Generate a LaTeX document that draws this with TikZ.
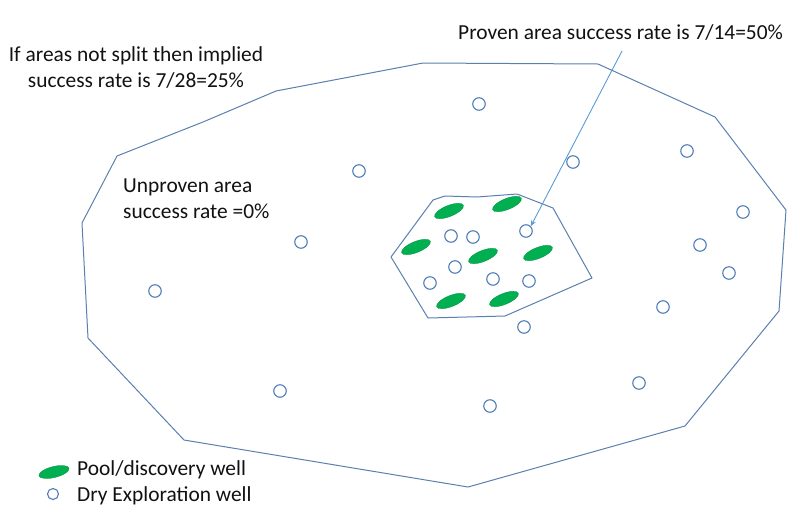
\documentclass[tikz,border=0pt]{standalone}
\usepackage{fontspec}
\setmainfont{Carlito}
\usetikzlibrary{shapes.geometric,arrows.meta}
\definecolor{edge}{HTML}{5B80AE}
\definecolor{drywell}{HTML}{4F7DB4}
\definecolor{pool}{HTML}{00B050}
\definecolor{arrowc}{HTML}{5B9BD5}
\definecolor{txt}{HTML}{111111}
\tikzset{
  dry/.style={circle,draw=drywell,line width=1.1pt,minimum size=12.5pt,inner sep=0pt,fill=white},
  poolwell/.style={ellipse,fill=pool,draw=pool!80!black,line width=0.3pt,minimum width=31pt,minimum height=11pt,inner sep=0pt,rotate=22},
  area/.style={draw=edge,line width=1pt,line join=round},
  lbl/.style={text=txt,font=\fontsize{21.4}{26}\selectfont,inner sep=0pt}
}
\begin{document}
\begin{tikzpicture}[x=1pt,y=-1pt]
\useasboundingbox (0,0) rectangle (800,528);
% outer area
\draw[area] (117,156) -- (203,122) -- (276,91) -- (423,63) -- (598,64) -- (715,117) -- (786,210) -- (779,311) -- (685,426) -- (468,487) -- (184,440) -- (88,338) -- (82,223) -- cycle;
% inner proven area
\draw[area] (391,257) -- (433,200) -- (445,196) -- (477,197) -- (517,194) -- (553,208) -- (592,278) -- (505,316) -- (428,318) -- cycle;
% discovery wells
\node[poolwell] (p1) at (449,211) {};
\node[poolwell] (p2) at (507,204) {};
\node[poolwell] (p3) at (416,247) {};
\node[poolwell] (p4) at (483,256) {};
\node[poolwell] (p5) at (538,253) {};
\node[poolwell] (p6) at (451,301) {};
\node[poolwell] (p7) at (504,299) {};
% dry wells inside
\node[dry] (d1) at (451,236) {};
\node[dry] (d2) at (473,237) {};
\node[dry] (d3) at (526,231) {};
\node[dry] (d4) at (455,267) {};
\node[dry] (d5) at (430,283) {};
\node[dry] (d6) at (493,279) {};
\node[dry] (d7) at (529,281) {};
% dry wells outside
\node[dry] (o1) at (479,104) {};
\node[dry] (o2) at (573,162) {};
\node[dry] (o3) at (687,151) {};
\node[dry] (o4) at (743,212) {};
\node[dry] (o5) at (700,245) {};
\node[dry] (o6) at (729,273) {};
\node[dry] (o7) at (663,307) {};
\node[dry] (o8) at (639,383) {};
\node[dry] (o9) at (490,406) {};
\node[dry] (o10) at (524,327) {};
\node[dry] (o11) at (280,391) {};
\node[dry] (o12) at (155,291) {};
\node[dry] (o13) at (301,242) {};
\node[dry] (o14) at (359,171) {};
% labels
\node[lbl,align=center] (tsplit) at (136,68) {If areas not split then implied\\success rate is 7/28=25\%};
\node[lbl,align=left,anchor=west] (tunp) at (123,199) {Unproven area\\success rate =0\%};
\node[lbl,anchor=west] (tprov) at (458,33) {Proven area success rate is 7/14=50\%};
\coordinate (astart) at (622,51);
\draw[arrowc,line width=0.9pt,-{Stealth[length=6pt,width=5pt]}] (astart) -- (d3.north east);
% legend
\node[poolwell,rotate=-8] (lp) at (54,472) {};
\node[dry,minimum size=11pt] (ld) at (53,494) {};
\node[lbl,anchor=west] (tlp) at (77,470) {Pool/discovery well};
\node[lbl,anchor=west] (tld) at (77,496) {Dry Exploration well};
\end{tikzpicture}
\end{document}
